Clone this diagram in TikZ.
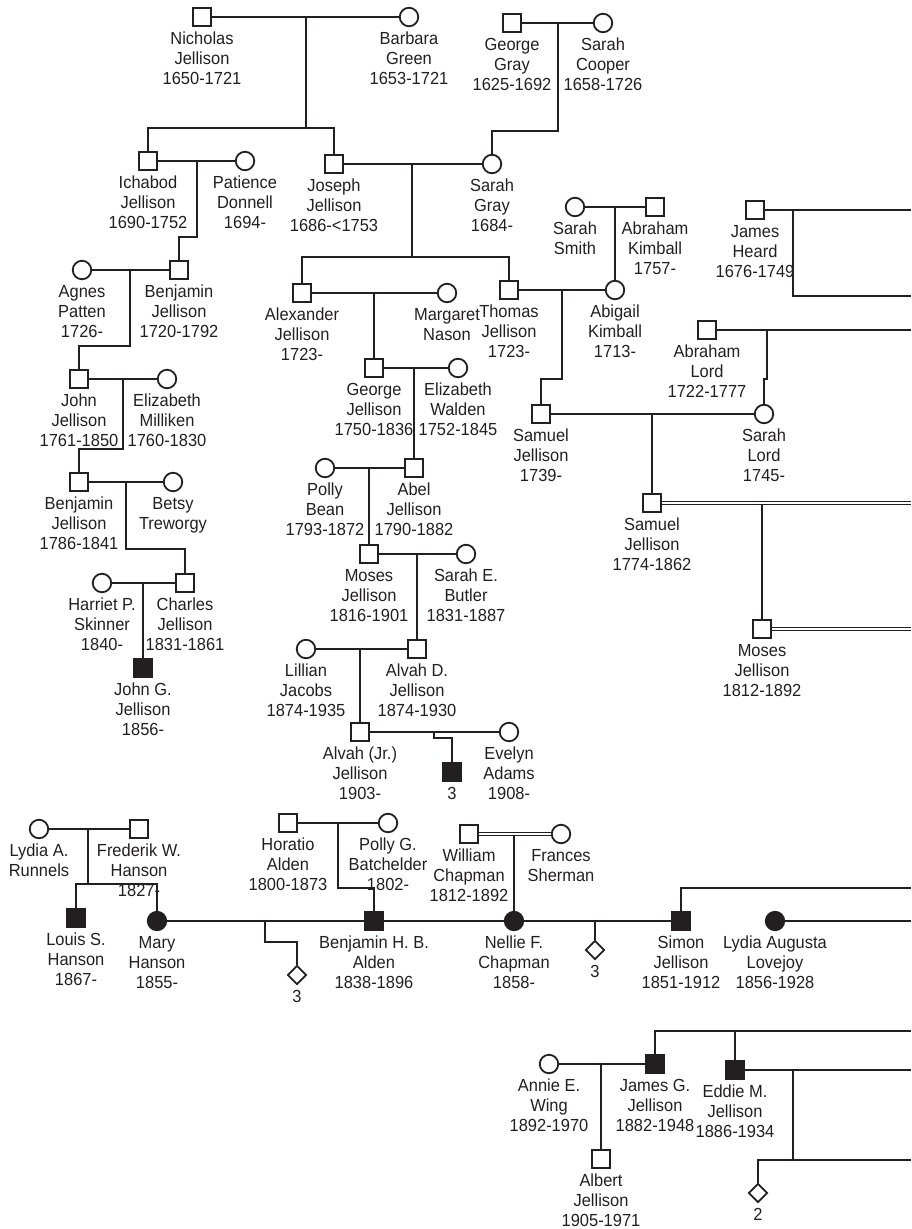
\documentclass[tikz,border=0pt]{standalone}
\usepackage{fontspec}
\setmainfont{Liberation Sans}[FakeStretch=0.94]
\usetikzlibrary{shapes.geometric}
\definecolor{ink}{HTML}{231F20}
\tikzset{
  sym/.style={draw, line width=1.8pt, inner sep=0pt, minimum size=18.5pt},
  sq/.style={sym, rectangle},
  fsq/.style={sq, fill=ink},
  ci/.style={sym, circle},
  fci/.style={ci, fill=ink},
  dia/.style={sym, diamond, minimum size=19pt},
  lab/.style={font=\fontsize{17.5}{20}\selectfont, align=center, inner sep=0pt, anchor=north},
  dbl/.style={double=white, double distance=1.8pt, line width=1.2pt},
}
\newcommand\pers[5]{%
  \node[#4] (#1) at (#2,#3) {};
  \node[lab] (#1l) at ([yshift=-14pt]#1.center) {\rule{0pt}{13pt}#5};}
\begin{document}
\begin{tikzpicture}[x=1pt,y=-1pt,line width=1.6pt,color=ink]
\useasboundingbox (0,0) rectangle (911,1229);
% Gen 1
\pers{nich}{202}{17}{sq}{Nicholas\\Jellison\\1650-1721}
\pers{barb}{409}{17}{ci}{Barbara\\Green\\1653-1721}
\pers{ggray}{512}{23}{sq}{George\\Gray\\1625-1692}
\pers{scoop}{603}{23}{ci}{Sarah\\Cooper\\1658-1726}
% Gen 2
\pers{icha}{148}{161}{sq}{Ichabod\\Jellison\\1690-1752}
\pers{pati}{245}{161}{ci}{Patience\\Donnell\\1694-}
\pers{jose}{334}{164}{sq}{Joseph\\Jellison\\1686-<1753}
\pers{sgray}{492}{164}{ci}{Sarah\\Gray\\1684-}
% Gen 3
\pers{ssmith}{575}{207}{ci}{Sarah\\Smith}
\pers{akimb}{655}{207}{sq}{Abraham\\Kimball\\1757-}
\pers{jheard}{755}{210}{sq}{James\\Heard\\1676-1749}
\pers{agnes}{82}{270}{ci}{Agnes\\Patten\\1726-}
\pers{benja}{179}{270}{sq}{Benjamin\\Jellison\\1720-1792}
\pers{alex}{302}{293}{sq}{Alexander\\Jellison\\1723-}
\pers{marg}{447}{293}{ci}{Margaret\\Nason}
\pers{thom}{509}{290}{sq}{Thomas\\Jellison\\1723-}
\pers{abig}{615}{290}{ci}{Abigail\\Kimball\\1713-}
\pers{alord}{707}{330}{sq}{Abraham\\Lord\\1722-1777}
% Gen 4
\pers{john}{79}{379}{sq}{John\\Jellison\\1761-1850}
\pers{emill}{167}{379}{ci}{Elizabeth\\Milliken\\1760-1830}
\pers{george}{374}{368}{sq}{George\\Jellison\\1750-1836}
\pers{ewald}{458}{368}{ci}{Elizabeth\\Walden\\1752-1845}
\pers{sama}{541}{414}{sq}{Samuel\\Jellison\\1739-}
\pers{slord}{764}{414}{ci}{Sarah\\Lord\\1745-}
% Gen 5
\pers{benjb}{79}{482}{sq}{Benjamin\\Jellison\\1786-1841}
\pers{betsy}{173}{482}{ci}{Betsy\\Treworgy}
\pers{polly}{325}{468}{ci}{Polly\\Bean\\1793-1872}
\pers{abel}{414}{468}{sq}{Abel\\Jellison\\1790-1882}
\pers{samb}{652}{503}{sq}{Samuel\\Jellison\\1774-1862}
% Gen 6
\pers{mosesa}{369}{554}{sq}{Moses\\Jellison\\1816-1901}
\pers{sbut}{466}{554}{ci}{Sarah E.\\Butler\\1831-1887}
\pers{harr}{102}{583}{ci}{Harriet P.\\Skinner\\1840-}
\pers{charl}{185}{583}{sq}{Charles\\Jellison\\1831-1861}
\pers{mosesb}{762}{629}{sq}{Moses\\Jellison\\1812-1892}
% Gen 7
\pers{lill}{306}{649}{ci}{Lillian\\Jacobs\\1874-1935}
\pers{alvd}{417}{649}{sq}{Alvah D.\\Jellison\\1874-1930}
\pers{johng}{143}{668}{fsq}{John G.\\Jellison\\1856-}
% Gen 8
\pers{alvj}{360}{732}{sq}{Alvah (Jr.)\\Jellison\\1903-}
\pers{evel}{509}{732}{ci}{Evelyn\\Adams\\1908-}
\pers{tri}{452}{772}{fsq}{3}
% Gen 9
\pers{lydia}{39}{829}{ci}{Lydia A.\\Runnels}
\pers{fred}{139}{829}{sq}{Frederik W.\\Hanson\\1827-}
\pers{hor}{288}{823}{sq}{Horatio\\Alden\\1800-1873}
\pers{pollyg}{388}{823}{ci}{Polly G.\\Batchelder\\1802-}
\pers{will}{469}{834}{sq}{William\\Chapman\\1812-1892}
\pers{fran}{561}{834}{ci}{Frances\\Sherman}
% Gen 10
\pers{louis}{76}{918}{fsq}{Louis S.\\Hanson\\1867-}
\pers{mary}{157}{921}{fci}{Mary\\Hanson\\1855-}
\pers{diaa}{297}{975}{dia}{3}
\pers{bhb}{374}{921}{fsq}{Benjamin H. B.\\Alden\\1838-1896}
\pers{nell}{514}{921}{fci}{Nellie F.\\Chapman\\1858-}
\pers{diab}{595}{950}{dia}{3}
\pers{simon}{681}{921}{fsq}{Simon\\Jellison\\1851-1912}
\pers{lyda}{775}{921}{fci}{Lydia Augusta\\Lovejoy\\1856-1928}
% Gen 11
\pers{annie}{549}{1064}{ci}{Annie E.\\Wing\\1892-1970}
\pers{jamesg}{655}{1064}{fsq}{James G.\\Jellison\\1882-1948}
\pers{eddie}{735}{1070}{fsq}{Eddie M.\\Jellison\\1886-1934}
\pers{albert}{601}{1159}{sq}{Albert\\Jellison\\1905-1971}
\pers{dtwo}{758}{1193}{dia}{2}
% ---------- connectors
\draw (nich) -- (barb);
\coordinate (c1) at (306,17); \coordinate (c1s) at (306,128);
\draw (c1) -- (c1s); \draw (icha.north) |- (c1s) -| (jose.north);
\draw (ggray) -- (scoop);
\coordinate (c2) at (558,23); \coordinate (c2s) at (558,131);
\draw (c2) -- (c2s) -| (sgray.north);
\draw (icha) -- (pati);
\coordinate (c3) at (197,161); \coordinate (c3s) at (197,237);
\draw (c3) -- (c3s) -| (benja.north);
\draw (jose) -- (sgray);
\coordinate (c4) at (412,164); \coordinate (c4s) at (412,257);
\draw (c4) -- (c4s); \draw (alex.north) |- (c4s) -| (thom.north);
\draw (ssmith) -- (akimb);
\coordinate (c5) at (615,207); \draw (c5) -- (abig.north);
\coordinate (e1) at (911,210); \coordinate (c6) at (793,210); \coordinate (e2) at (911,296);
\draw (jheard) -- (e1); \draw (c6) |- (e2);
\draw (agnes) -- (benja);
\coordinate (c7) at (130,270); \coordinate (c7s) at (130,346);
\draw (c7) -- (c7s) -| (john.north);
\draw (alex) -- (marg);
\coordinate (c8) at (374,293); \draw (c8) -- (george.north);
\draw (thom) -- (abig);
\coordinate (c9) at (562,290); \coordinate (c9s) at (562,379);
\draw (c9) -- (c9s) -| (sama.north);
\coordinate (e3) at (911,330); \coordinate (c10) at (767,330); \coordinate (c10s) at (767,379);
\draw (alord) -- (e3); \draw (c10) -- (c10s) -| (slord.north);
\draw (john) -- (emill);
\coordinate (c11) at (123,379); \coordinate (c11s) at (123,449);
\draw (c11) -- (c11s) -| (benjb.north);
\draw (george) -- (ewald);
\coordinate (c12) at (414,368); \draw (c12) -- (abel.north);
\draw (sama) -- (slord);
\coordinate (c13) at (652,414); \draw (c13) -- (samb.north);
\draw (benjb) -- (betsy);
\coordinate (c14) at (126,482); \coordinate (c14s) at (126,549);
\draw (c14) -- (c14s) -| (charl.north);
\draw (polly) -- (abel);
\coordinate (c15) at (369,468); \draw (c15) -- (mosesa.north);
\coordinate (c16) at (762,503); \draw (c16) -- (mosesb.north);
\coordinate (e4) at (911,503); \draw[dbl] (samb) -- (e4);
\draw (mosesa) -- (sbut);
\coordinate (c17) at (417,554); \draw (c17) -- (alvd.north);
\draw (harr) -- (charl);
\coordinate (c18) at (143,583); \draw (c18) -- (johng.north);
\coordinate (e5) at (911,629); \draw[dbl] (mosesb) -- (e5);
\draw (lill) -- (alvd);
\coordinate (c20) at (360,649); \draw (c20) -- (alvj.north);
\draw (alvj) -- (evel);
\coordinate (c21) at (434,732); \coordinate (c21s) at (434,738);
\draw (c21) -- (c21s) -| (tri.north);
\draw (lydia) -- (fred);
\coordinate (c22) at (88,829); \coordinate (c22s) at (88,884);
\draw (c22) -- (c22s); \draw (louis.north) |- (c22s) -| (mary.north);
\draw (hor) -- (pollyg);
\coordinate (c23) at (338,823); \coordinate (c23s) at (338,888);
\draw (c23) -- (c23s) -| (bhb.north);
\coordinate (c24) at (514,834); \draw (c24) -- (nell.north);
\draw[dbl] (will) -- (fran);
\draw (mary) -- (bhb); \draw (bhb) -- (nell); \draw (nell) -- (simon);
\coordinate (c25) at (265,921); \coordinate (c25s) at (265,942);
\draw (c25) -- (c25s) -| (diaa.north);
\coordinate (c26) at (595,921); \draw (c26) -- (diab.north);
\coordinate (e6) at (911,888); \draw (simon.north) |- (e6);
\coordinate (e7) at (911,921); \draw (lyda) -- (e7);
\coordinate (e8) at (911,1031); \draw (jamesg.north) |- (e8);
\coordinate (c28) at (735,1031); \draw (c28) -- (eddie.north);
\draw (annie) -- (jamesg);
\coordinate (c29) at (601,1064); \draw (c29) -- (albert.north);
\coordinate (e9) at (911,1070); \draw (eddie) -- (e9);
\coordinate (c30) at (793,1070); \coordinate (c30s) at (793,1160); \coordinate (e10) at (911,1160);
\draw (c30) -- (c30s); \draw (dtwo.north) |- (e10);
\end{tikzpicture}
\end{document}
